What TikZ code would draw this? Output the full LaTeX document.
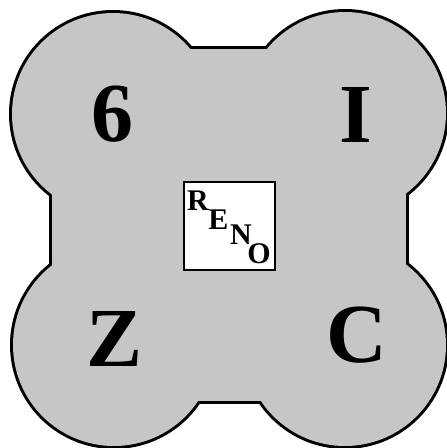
\documentclass[tikz,border=0pt]{standalone}
\usepackage{fontspec}
\setmainfont{Liberation Serif}
\definecolor{halftone}{RGB}{198,198,198}
\tikzset{
  big/.style={inner sep=0pt, font=\fontsize{84}{90}\selectfont\bfseries},
  small/.style={inner sep=0pt, font=\fontsize{30}{32}\selectfont\bfseries},
  boxstyle/.style={draw=black, line width=2.6pt, fill=white},
  rim/.style={draw=black, line width=6pt},
  body/.style={fill=halftone}
}
\begin{document}
\begin{tikzpicture}[x=1pt,y=-1pt]
\useasboundingbox (0,0) rectangle (447,448);
% outline (outer half of a thick stroke stays visible)
\path[rim] (52,49) rectangle (406,401);
\path[rim] (113,114) circle[radius=101];
\path[rim] (345,113) circle[radius=101];
\path[rim] (114,345) circle[radius=101];
\path[rim] (345,345) circle[radius=101];
\path[body] (52,49) rectangle (406,401);
\path[body] (113,114) circle[radius=101];
\path[body] (345,113) circle[radius=101];
\path[body] (114,345) circle[radius=101];
\path[body] (345,345) circle[radius=101];
% letters
\node[big] (six) at (113,114) {6};
\node[big] (eye) at (356,115) {I};
\node[big] (zed) at (115,339) {Z};
\node[big] (cee) at (357,335) {C};
% center box
\node[boxstyle, minimum width=91pt, minimum height=88pt, inner sep=0pt] (box) at (229.5,226) {};
\node[small] (r) at (198,201) {R};
\node[small] (e) at (218.5,219.5) {E};
\node[small] (n) at (241,235) {N};
\node[small] (o) at (259,254) {O};
\end{tikzpicture}
\end{document}
